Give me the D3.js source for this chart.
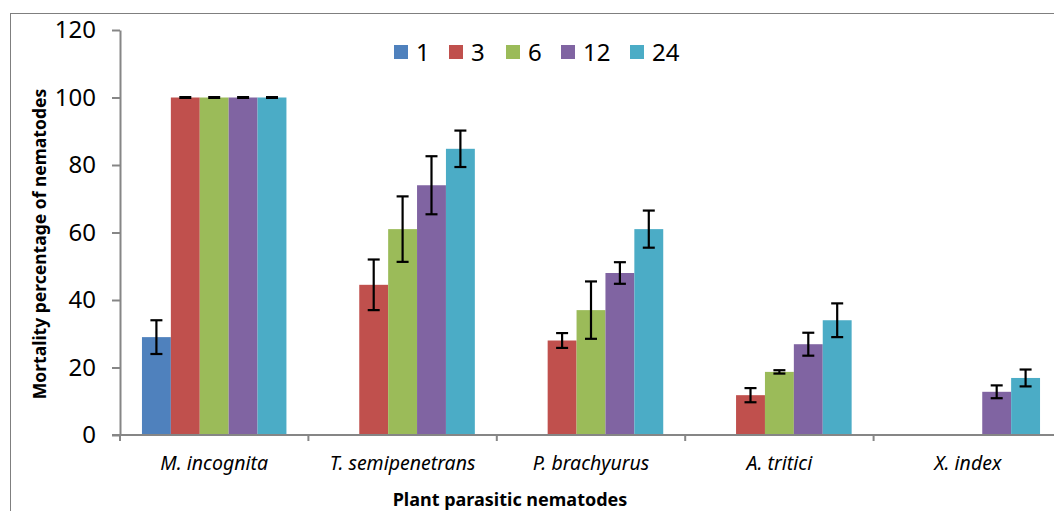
<!DOCTYPE html>
<html>
<head>
<meta charset="utf-8">
<script src="https://cdn.jsdelivr.net/npm/d3@7"></script>
<style>
  body { margin: 0; background: #fff; }
  svg { display: block; font-family: "Noto Sans", sans-serif; }
</style>
</head>
<body>
<div id="chart"></div>
<script>
const categories = ["M. incognita", "T. semipenetrans", "P. brachyurus", "A. tritici", "X. index"];
const seriesNames = ["1", "3", "6", "12", "24"];
const colors = ["#4F81BD", "#C0504D", "#9BBB59", "#8064A2", "#4BACC6"];

// mean mortality per series (null = no bar)
const values1  = [29, null, null, null, null];
const values3  = [100, 44.5, 28, 11.8, null];
const values6  = [100, 61, 37, 18.7, null];
const values12 = [100, 74, 48, 26.9, 12.8];
const values24 = [100, 84.8, 61, 34, 16.9];

// error bar half-widths
const err1  = [5, null, null, null, null];
const err3  = [0, 7.5, 2.2, 2.1, null];
const err6  = [0, 9.7, 8.5, 0.5, null];
const err12 = [0, 8.6, 3.2, 3.4, 1.9];
const err24 = [0, 5.4, 5.5, 5, 2.5];

const yTicks = [0, 20, 40, 60, 80, 100, 120];

const allValues = [values1, values3, values6, values12, values24];
const allErrors = [err1, err3, err6, err12, err24];

const width = 1054, height = 511;
const svg = d3.select("#chart").append("svg")
  .attr("width", width)
  .attr("height", height);

// outer frame
svg.append("rect")
  .attr("x", 10.5).attr("y", 13.5)
  .attr("width", 1100).attr("height", 600)
  .attr("fill", "none")
  .attr("stroke", "#7f7f7f")
  .attr("stroke-width", 1);

const x0 = d3.scaleBand().domain(categories).range([120, 1062]);
const x1 = d3.scaleBand().domain(seriesNames).range([0, x0.bandwidth()])
  .paddingInner(0).paddingOuter(0.76);
const y = d3.scaleLinear().domain([0, 120]).range([435, 30]);

const axisColor = "#868686";

// bars
const rows = [];
seriesNames.forEach((s, si) => {
  categories.forEach((c, ci) => {
    const v = allValues[si][ci];
    if (v !== null) rows.push({ s, si, c, v, e: allErrors[si][ci] });
  });
});

svg.append("g").selectAll("rect")
  .data(rows)
  .enter()
  .append("rect")
  .attr("x", d => x0(d.c) + x1(d.s))
  .attr("y", d => y(d.v))
  .attr("width", x1.bandwidth())
  .attr("height", d => y(0) - y(d.v))
  .attr("fill", d => colors[d.si]);

// error bars
const eb = svg.append("g").attr("stroke", "#000").attr("stroke-width", 2.2);
rows.forEach(d => {
  const cx = x0(d.c) + x1(d.s) + x1.bandwidth() / 2;
  const hi = y(d.v + d.e), lo = y(d.v - d.e);
  if (d.e > 0) {
    eb.append("line").attr("x1", cx).attr("x2", cx).attr("y1", hi).attr("y2", lo);
    eb.append("line").attr("x1", cx - 6).attr("x2", cx + 6).attr("y1", hi).attr("y2", hi);
    eb.append("line").attr("x1", cx - 6).attr("x2", cx + 6).attr("y1", lo).attr("y2", lo);
  } else {
    eb.append("line").attr("x1", cx - 6).attr("x2", cx + 6).attr("y1", hi).attr("y2", hi)
      .attr("stroke-width", 3);
  }
});

// y axis
const yAxis = svg.append("g")
  .attr("transform", "translate(120,0)")
  .call(d3.axisLeft(y).tickValues(yTicks).tickSize(8).tickSizeOuter(0).tickPadding(16));
yAxis.select(".domain").attr("stroke", axisColor).attr("stroke-width", 2);
yAxis.selectAll(".tick line").attr("stroke", axisColor).attr("stroke-width", 2);
yAxis.selectAll(".tick text")
  .attr("fill", "#000")
  .style("font-size", "24px")
  .style("font-family", "'Noto Sans', sans-serif");

// x axis line and boundary ticks
svg.append("line")
  .attr("x1", 112).attr("x2", 1062)
  .attr("y1", y(0)).attr("y2", y(0))
  .attr("stroke", axisColor).attr("stroke-width", 2);

const bounds = categories.map(c => x0(c)).concat([x0.range()[1]]);
svg.append("g").selectAll("line")
  .data(bounds)
  .enter()
  .append("line")
  .attr("x1", d => d).attr("x2", d => d)
  .attr("y1", y(0)).attr("y2", y(0) + 6)
  .attr("stroke", axisColor).attr("stroke-width", 2);

svg.append("g").selectAll("text")
  .data(categories)
  .enter()
  .append("text")
  .attr("x", d => x0(d) + x0.bandwidth() / 2)
  .attr("y", 470)
  .attr("text-anchor", "middle")
  .style("font-size", "19.5px")
  .style("font-style", "italic")
  .text(d => d);

// axis titles
svg.append("text")
  .attr("x", 510).attr("y", 506)
  .attr("text-anchor", "middle")
  .style("font-size", "18px")
  .style("font-weight", "bold")
  .text("Plant parasitic nematodes");

svg.append("text")
  .attr("transform", "translate(46,244) rotate(-90)")
  .attr("text-anchor", "middle")
  .style("font-size", "17.5px")
  .style("font-weight", "bold")
  .text("Mortality percentage of nematodes");

// legend
const legendX = [394, 449, 506, 561, 630];
const legend = svg.append("g").selectAll("g")
  .data(seriesNames)
  .enter()
  .append("g")
  .attr("transform", (d, i) => `translate(${legendX[i]}, 52)`);

legend.append("rect")
  .attr("x", 0).attr("y", -7)
  .attr("width", 14).attr("height", 14)
  .attr("fill", (d, i) => colors[i]);

legend.append("text")
  .attr("x", 22).attr("y", 0)
  .attr("dy", "0.36em")
  .style("font-size", "24px")
  .text(d => d);
</script>
</body>
</html>
